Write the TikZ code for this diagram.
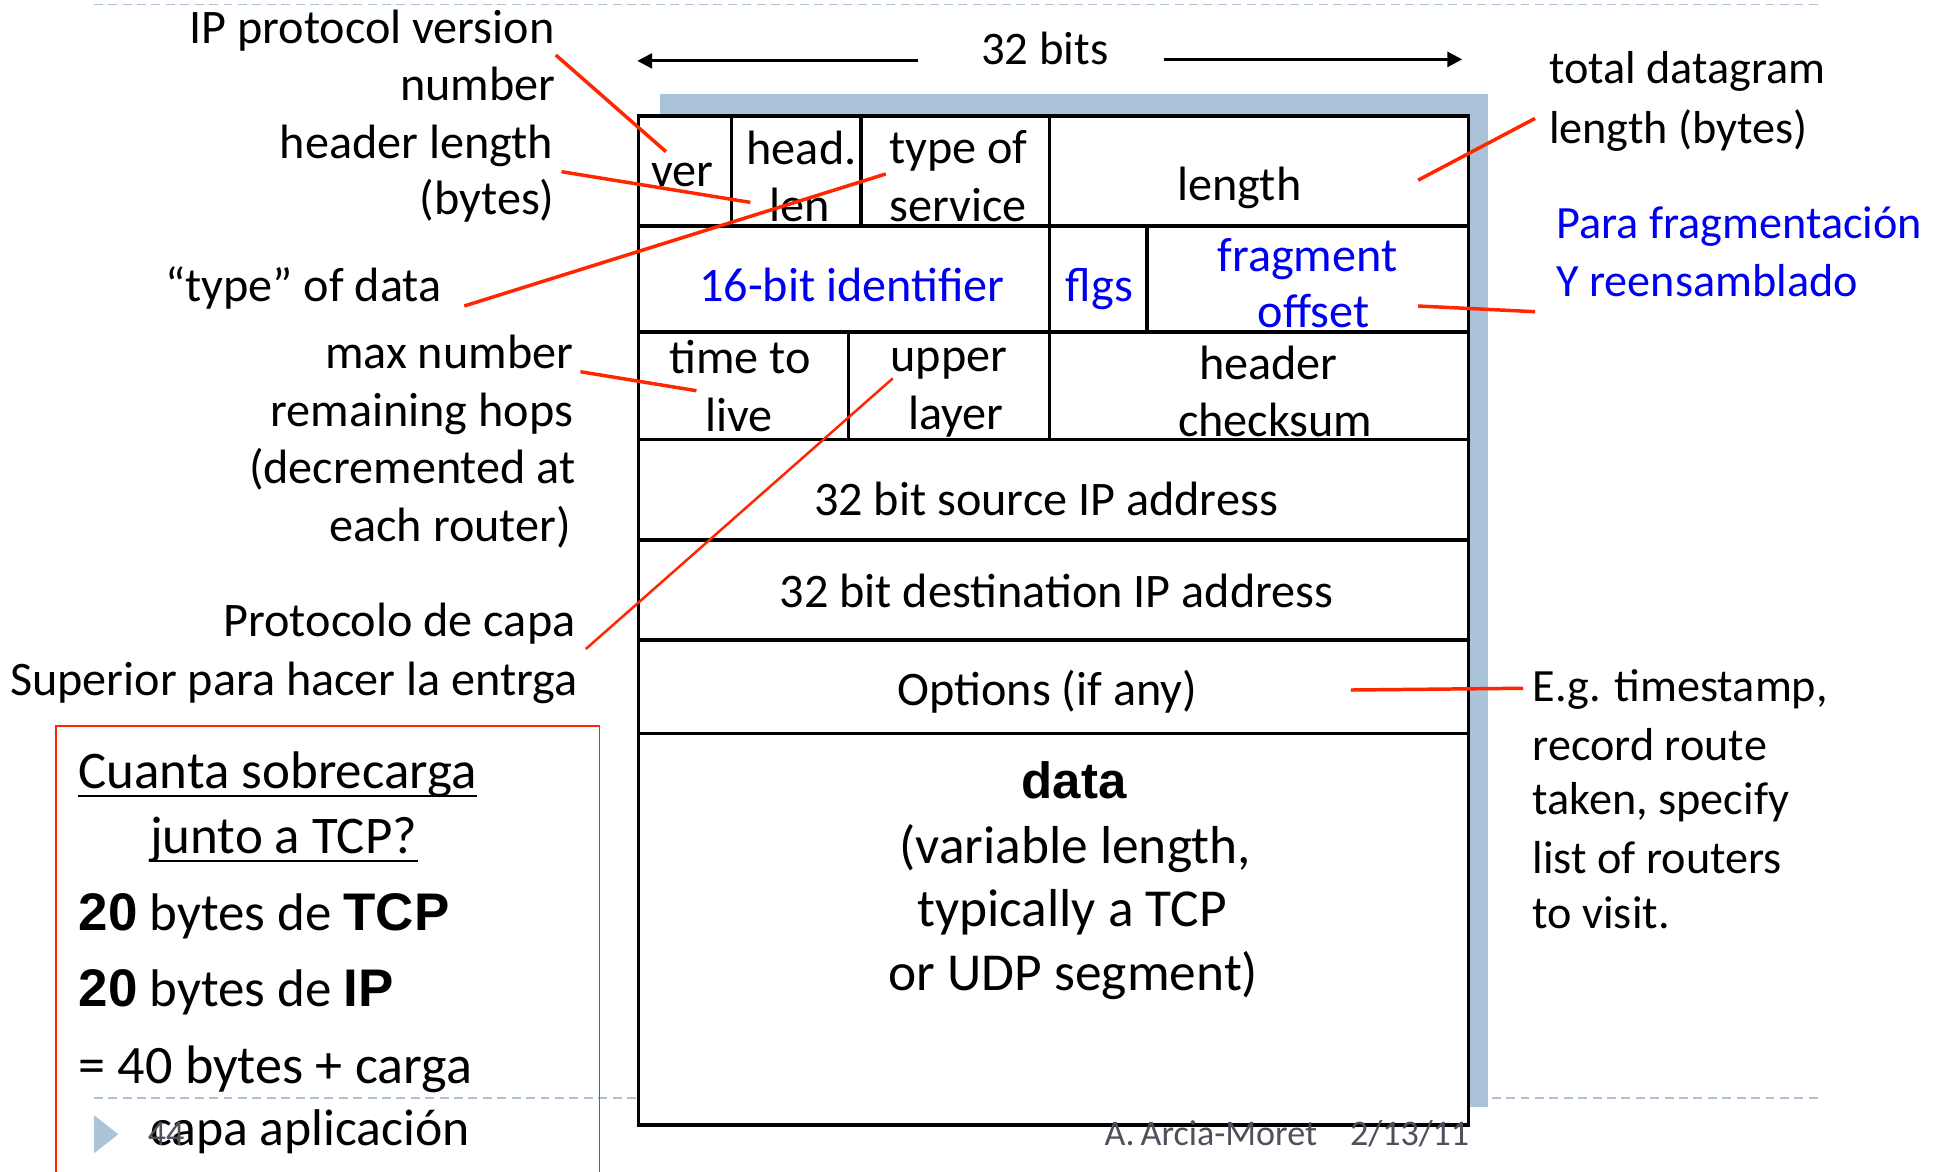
\documentclass[tikz,border=0pt]{standalone}
\usepackage{fontspec}
\setmainfont{Carlito}
\newfontfamily\heavyfont{Liberation Sans}[BoldFont={Liberation Sans Bold}]
\usetikzlibrary{arrows.meta}
\definecolor{calloutred}{RGB}{255,38,0}
\definecolor{fieldblue}{RGB}{0,0,240}
\definecolor{slideblue}{RGB}{171,195,217}
\definecolor{footgray}{RGB}{80,80,92}
\newcommand\heavy[1]{{\heavyfont\bfseries #1}}
\begin{document}
\begin{tikzpicture}[x=0.5pt,y=-0.5pt,
  txt/.style={inner sep=0pt, font=\fontsize{19.4}{23}\selectfont},
  datatxt/.style={inner sep=0pt, anchor=base, font=\fontsize{21.5}{25}\selectfont},
  rtxt/.style={inner sep=0pt, font=\fontsize{18.6}{22}\selectfont},
  boxtxt/.style={inner sep=0pt, anchor=base west, font=\fontsize{21.3}{25}\selectfont},
  foot/.style={inner sep=0pt, font=\fontsize{14.5}{17}\selectfont, text=footgray},
  lefttxt/.style={txt, anchor=base east},
  righttxt/.style={rtxt, anchor=base west},
  fieldtxt/.style={txt, anchor=base},
  bluefield/.style={fieldtxt, text=fieldblue},
  tablerule/.style={line width=1.3pt, black},
  redline/.style={draw=calloutred, line width=1.4pt},
  sliderule/.style={draw=slideblue, line width=0.6pt, dash pattern=on 3.6pt off 2.2pt},
  widtharrow/.style={line width=1.2pt, -{Triangle[length=6pt,width=6pt]}}
]
% page
\fill[white] (0,0) rectangle (1568,943);
\useasboundingbox (0,0) rectangle (1568,943);

% slide rules
\draw[sliderule] (75.5,3.5) -- (1467,3.5);
\draw[sliderule] (75.5,883.6) -- (1467,883.6);

% width of a header row
\node[txt, anchor=base, font=\fontsize{18.8}{22}\selectfont] (bits) at (841,52.3) {32 bits};
\coordinate (bitsL) at (513,49);
\coordinate (bitsLs) at (738.6,49);
\coordinate (bitsR) at (1177,47.8);
\coordinate (bitsRs) at (937,47.8);
\draw[widtharrow] (bitsLs) -- (bitsL);
\draw[widtharrow] (bitsRs) -- (bitsR);

% header frame with its shadow
\fill[slideblue] (531,76) rectangle (1198,891);
\fill[white] (514,93.4) rectangle (1182,905.6);
\foreach \y in {181.9,267.3,353.6,434.7,515.2,590.3}
  \draw[tablerule] (514,\y) -- (1182,\y);
\draw[tablerule] (589,93.4) -- (589,181.9);
\draw[tablerule] (693,93.4) -- (693,181.9);
\draw[tablerule] (844.8,93.4) -- (844.8,353.6);
\draw[tablerule] (923.3,181.9) -- (923.3,267.3);
\draw[tablerule] (683,267.3) -- (683,353.6);
\draw[tablerule] (514,93.4) rectangle (1182,905.6);

% header fields
\node[fieldtxt] (ver) at (549.3,150) {ver};
\node[fieldtxt] (hlen1) at (645.2,132.8) {head.};
\node[fieldtxt] (hlen2) at (643.5,178.4) {len};
\node[fieldtxt] (tos1) at (771.3,131.5) {type of};
\node[fieldtxt] (tos2) at (771.3,178.4) {service};
\node[fieldtxt] (len) at (997.7,161) {length};
\node[bluefield] (ident) at (685.8,242.8) {16-bit identifier};
\node[bluefield] (flgs) at (885,242.8) {flgs};
\node[bluefield] (frag1) at (1052.4,218.7) {fragment};
\node[bluefield] (frag2) at (1057.5,264) {offset};
\node[fieldtxt] (ttl1) at (595.5,300.5) {time to};
\node[fieldtxt] (ttl2) at (594.9,347.5) {live};
\node[fieldtxt] (up1) at (763.8,299.2) {upper};
\node[fieldtxt] (up2) at (769.5,346) {layer};
\node[fieldtxt] (cks1) at (1020.9,305.3) {header};
\node[fieldtxt] (cks2) at (1026.4,351.5) {checksum};
\node[fieldtxt] (src) at (842,414.6) {32 bit source IP address};
\node[fieldtxt] (dst) at (850.4,488.9) {32 bit destination IP address};
\node[fieldtxt] (opt) at (843,567.5) {Options (if any)};
\node[datatxt, font=\fontsize{20.5}{24}\selectfont] (data1) at (864.5,642.6) {\heavy{data}};
\node[datatxt] (data2) at (865.4,695) {(variable length,};
\node[datatxt] (data3) at (863,746) {typically a TCP};
\node[datatxt] (data4) at (864,797) {or UDP segment)};

% left labels
\node[lefttxt] (ipv1) at (446.7,34.9) {IP protocol version};
\node[lefttxt] (ipv2) at (447.4,80.5) {number};
\node[lefttxt] (hl1) at (445.6,127.4) {header length};
\node[lefttxt] (hl2) at (446.7,173) {(bytes)};
\node[lefttxt] (tod) at (355.8,242.8) {“type” of data};
\node[lefttxt] (mx1) at (461.8,296.5) {max number};
\node[lefttxt] (mx2) at (461.8,343.4) {remaining hops};
\node[lefttxt] (mx3) at (463.6,389) {(decremented at};
\node[lefttxt] (mx4) at (460,436) {each router)};
\node[lefttxt] (pr1) at (463.6,512.5) {Protocolo de capa};
\node[lefttxt] (pr2) at (465.4,559.5) {Superior para hacer la entrga};

% right labels
\node[righttxt] (tl1) at (1246.5,67) {total datagram};
\node[righttxt] (tl2) at (1246.5,115.4) {length (bytes)};
\node[righttxt, text=fieldblue] (fr1) at (1252.3,191.8) {Para fragmentación};
\node[righttxt, text=fieldblue] (fr2) at (1252.3,238.8) {Y reensamblado};
\node[righttxt] (eg1) at (1233.3,564.8) {E.g. timestamp,};
\node[righttxt] (eg2) at (1233.3,611.8) {record route};
\node[righttxt] (eg3) at (1233.3,656) {taken, specify};
\node[righttxt] (eg4) at (1233.3,703) {list of routers};
\node[righttxt] (eg5) at (1233.3,747.3) {to visit.};

% callout lines
\coordinate (verA) at (447.4,44.3);   \coordinate (verB) at (536,122);
\coordinate (hlA) at (452,138.2);     \coordinate (hlB) at (604,162.9);
\coordinate (tosA) at (373.7,246.3);  \coordinate (tosB) at (713,140);
\coordinate (lenA) at (1141.5,145);   \coordinate (lenB) at (1235.6,95.3);
\coordinate (fragA) at (1141.5,246.3);\coordinate (fragB) at (1235.6,250.9);
\coordinate (ttlA) at (467.2,299.2);  \coordinate (ttlB) at (560.6,314.5);
\coordinate (protoA) at (471.5,522.4);\coordinate (protoB) at (718.7,304.5);
\coordinate (optA) at (1087.4,555.4); \coordinate (optB) at (1226,554);
\draw[redline] (verA) -- (verB);
\draw[redline] (hlA) -- (hlB);
\draw[redline] (tosA) -- (tosB);
\draw[redline] (lenA) -- (lenB);
\draw[redline] (fragA) -- (fragB);
\draw[redline] (ttlA) -- (ttlB);
\draw[redline, line width=1pt] (protoA) -- (protoB);
\draw[redline] (optA) -- (optB);

% overhead box
\draw[calloutred, line width=0.6pt] (44.9,943) |- (482.6,584.4) -- (482.6,943);
\node[boxtxt] (q1) at (62.9,634.6) {Cuanta sobrecarga};
\node[boxtxt] (q2) at (120.4,686.9) {junto a TCP?};
\draw[line width=1pt] ([yshift=-3pt]q1.base west) -- ([yshift=-3pt]q1.base east);
\draw[line width=1pt] ([yshift=-3pt]q2.base west) -- ([yshift=-3pt]q2.base east);
\node[boxtxt] (a1) at (62.9,748.6) {\heavy{20} bytes de \heavy{TCP}};
\node[boxtxt] (a2) at (62.9,810.3) {\heavy{20} bytes de \heavy{IP}};
\node[boxtxt, font=\fontsize{21.8}{25}\selectfont] (a3) at (62.9,872) {= 40 bytes + carga};

% slide footer
\fill[slideblue] (75.5,897.5) -- (95.2,913) -- (75.5,928.4) -- cycle;
\node[boxtxt, font=\fontsize{20.8}{25}\selectfont] (title) at (120.4,921.7) {capa aplicación};
\node[foot, anchor=base west] (page) at (118.6,921.7) {44};
\node[foot, anchor=base west] (author) at (888.7,921.7) {A.\,Arcia-Moret};
\node[foot, anchor=base east] (date) at (1183,921.7) {2/13/11};
\end{tikzpicture}
\end{document}
